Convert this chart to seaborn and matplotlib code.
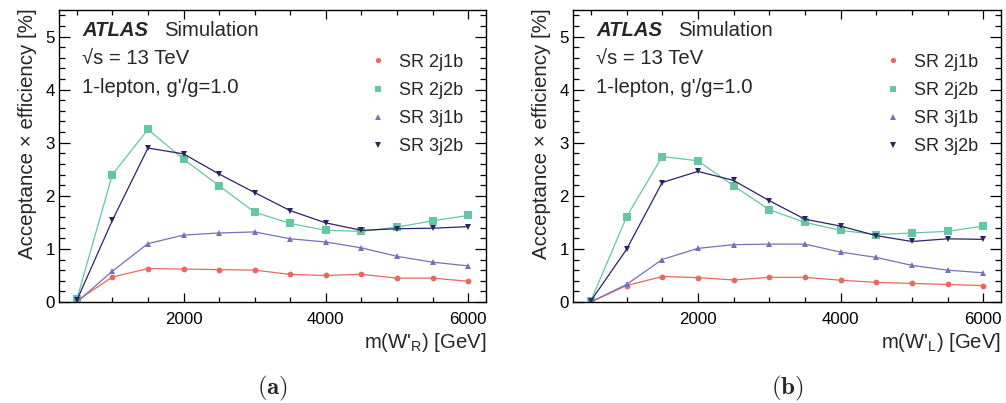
import matplotlib
matplotlib.use("Agg")
import matplotlib.pyplot as plt
import numpy as np
import pandas as pd
import seaborn as sns
from matplotlib.lines import Line2D
from matplotlib.ticker import MultipleLocator

# ---------------- data ----------------
mass = [500, 1000, 1500, 2000, 2500, 3000, 3500, 4000, 4500, 5000, 5500, 6000]
regions = ["SR 2j1b", "SR 2j2b", "SR 3j1b", "SR 3j2b"]

# panel (a): W'_R
wr_2j1b = [0.02, 0.47, 0.63, 0.62, 0.61, 0.60, 0.52, 0.50, 0.52, 0.45, 0.45, 0.39]
wr_2j2b = [0.05, 2.40, 3.25, 2.69, 2.19, 1.69, 1.48, 1.35, 1.33, 1.41, 1.53, 1.63]
wr_3j1b = [0.00, 0.58, 1.10, 1.26, 1.30, 1.32, 1.19, 1.13, 1.02, 0.86, 0.75, 0.68]
wr_3j2b = [0.03, 1.54, 2.90, 2.79, 2.41, 2.06, 1.72, 1.49, 1.35, 1.38, 1.39, 1.42]

# panel (b): W'_L
wl_2j1b = [0.00, 0.31, 0.48, 0.46, 0.415, 0.465, 0.465, 0.41, 0.37, 0.35, 0.33, 0.31]
wl_2j2b = [0.02, 1.60, 2.74, 2.66, 2.19, 1.74, 1.50, 1.35, 1.27, 1.30, 1.33, 1.43]
wl_3j1b = [0.00, 0.33, 0.80, 1.01, 1.08, 1.09, 1.09, 0.94, 0.84, 0.69, 0.60, 0.55]
wl_3j2b = [0.02, 0.99, 2.25, 2.46, 2.29, 1.91, 1.56, 1.43, 1.25, 1.14, 1.19, 1.18]

panels = [
    dict(vals=[wr_2j1b, wr_2j2b, wr_3j1b, wr_3j2b], sub="R", cap="(a)"),
    dict(vals=[wl_2j1b, wl_2j2b, wl_3j1b, wl_3j2b], sub="L", cap="(b)"),
]

colors = ["#e66a5f", "#66c6a3", "#7571b6", "#2a2466"]
markers = ["o", "s", "^", "v"]
msizes = [4.2, 5.2, 4.4, 4.4]

# ---------------- style ----------------
sns.set_style("ticks")
plt.rcParams["font.family"] = ["Liberation Sans", "DejaVu Sans"]
plt.rcParams["mathtext.fontset"] = "custom"
plt.rcParams["mathtext.rm"] = "Liberation Sans"
plt.rcParams["mathtext.it"] = "Liberation Sans:italic"
plt.rcParams["mathtext.bf"] = "Liberation Sans:bold"
plt.rcParams["axes.edgecolor"] = "black"
plt.rcParams["axes.linewidth"] = 1.0

fig = plt.figure(figsize=(10.06, 4.03), dpi=100)
ax_rects = [
    [59 / 1006, 1 - 302 / 403, 427 / 1006, 292 / 403],
    [573 / 1006, 1 - 302 / 403, 428 / 1006, 292 / 403],
]

for rect, p in zip(ax_rects, panels):
    ax = fig.add_axes(rect)
    for name, vals, c, m, ms in zip(regions, p["vals"], colors, markers, msizes):
        df = pd.DataFrame({"mass": mass, "eff": vals})
        sns.lineplot(data=df, x="mass", y="eff", color=c, marker=m,
                     markersize=ms, markeredgewidth=0, linewidth=0.9,
                     ax=ax, legend=False)
    ax.set_xlim(250, 6250)
    ax.set_ylim(0, 5.5)
    ax.xaxis.set_major_locator(MultipleLocator(2000))
    ax.xaxis.set_minor_locator(MultipleLocator(500))
    ax.yaxis.set_major_locator(MultipleLocator(1))
    ax.yaxis.set_minor_locator(MultipleLocator(0.2))
    ax.tick_params(axis="both", which="both", direction="in",
                   top=True, right=True, colors="black", width=0.9)
    ax.tick_params(axis="y", which="major", length=8, labelsize=12.2, pad=3)
    ax.tick_params(axis="y", which="minor", length=4.5)
    ax.tick_params(axis="x", which="major", length=6.5, labelsize=12.2, pad=7)
    ax.tick_params(axis="x", which="minor", length=3.5)
    for s in ax.spines.values():
        s.set_visible(True)
        s.set_linewidth(1.0)

    ax.set_ylabel("Acceptance \u00d7 efficiency [%]", fontsize=14.8, loc="top")
    ax.yaxis.set_label_coords(-0.052, 1.006)
    ax.set_xlabel("m(W'$_{\\mathregular{" + p["sub"] + "}}$) [GeV]",
                  fontsize=14.6, loc="right")
    ax.xaxis.set_label_coords(1.0, -0.100)

    ax.text(0.054, 0.911, "ATLAS", transform=ax.transAxes, fontsize=14.6,
            fontweight="bold", fontstyle="italic", ha="left", va="baseline")
    ax.text(0.246, 0.911, "Simulation", transform=ax.transAxes, fontsize=14.6,
            ha="left", va="baseline")
    ax.text(0.054, 0.815, "\u221as = 13 TeV", transform=ax.transAxes,
            fontsize=14.6, ha="left", va="baseline")
    ax.text(0.054, 0.716, "1-lepton, g'/g=1.0", transform=ax.transAxes,
            fontsize=14.6, ha="left", va="baseline")

    handles = [Line2D([], [], color=c, marker=m, linestyle="none",
                      markersize=ms * 0.9, markeredgewidth=0)
               for c, m, ms in zip(colors, markers, msizes)]
    ax.legend(handles, regions, loc="upper left", bbox_to_anchor=(0.722, 0.85),
              frameon=False, fontsize=13, handlelength=1.2,
              handletextpad=0.55, labelspacing=0.62, borderaxespad=0,
              borderpad=0)

    ax.text(0.5, -0.295, "$\\mathbf{" + p["cap"] + "}$", transform=ax.transAxes,
            fontsize=18, ha="center", va="center", math_fontfamily="cm")

fig.savefig("out.png", dpi=100)
